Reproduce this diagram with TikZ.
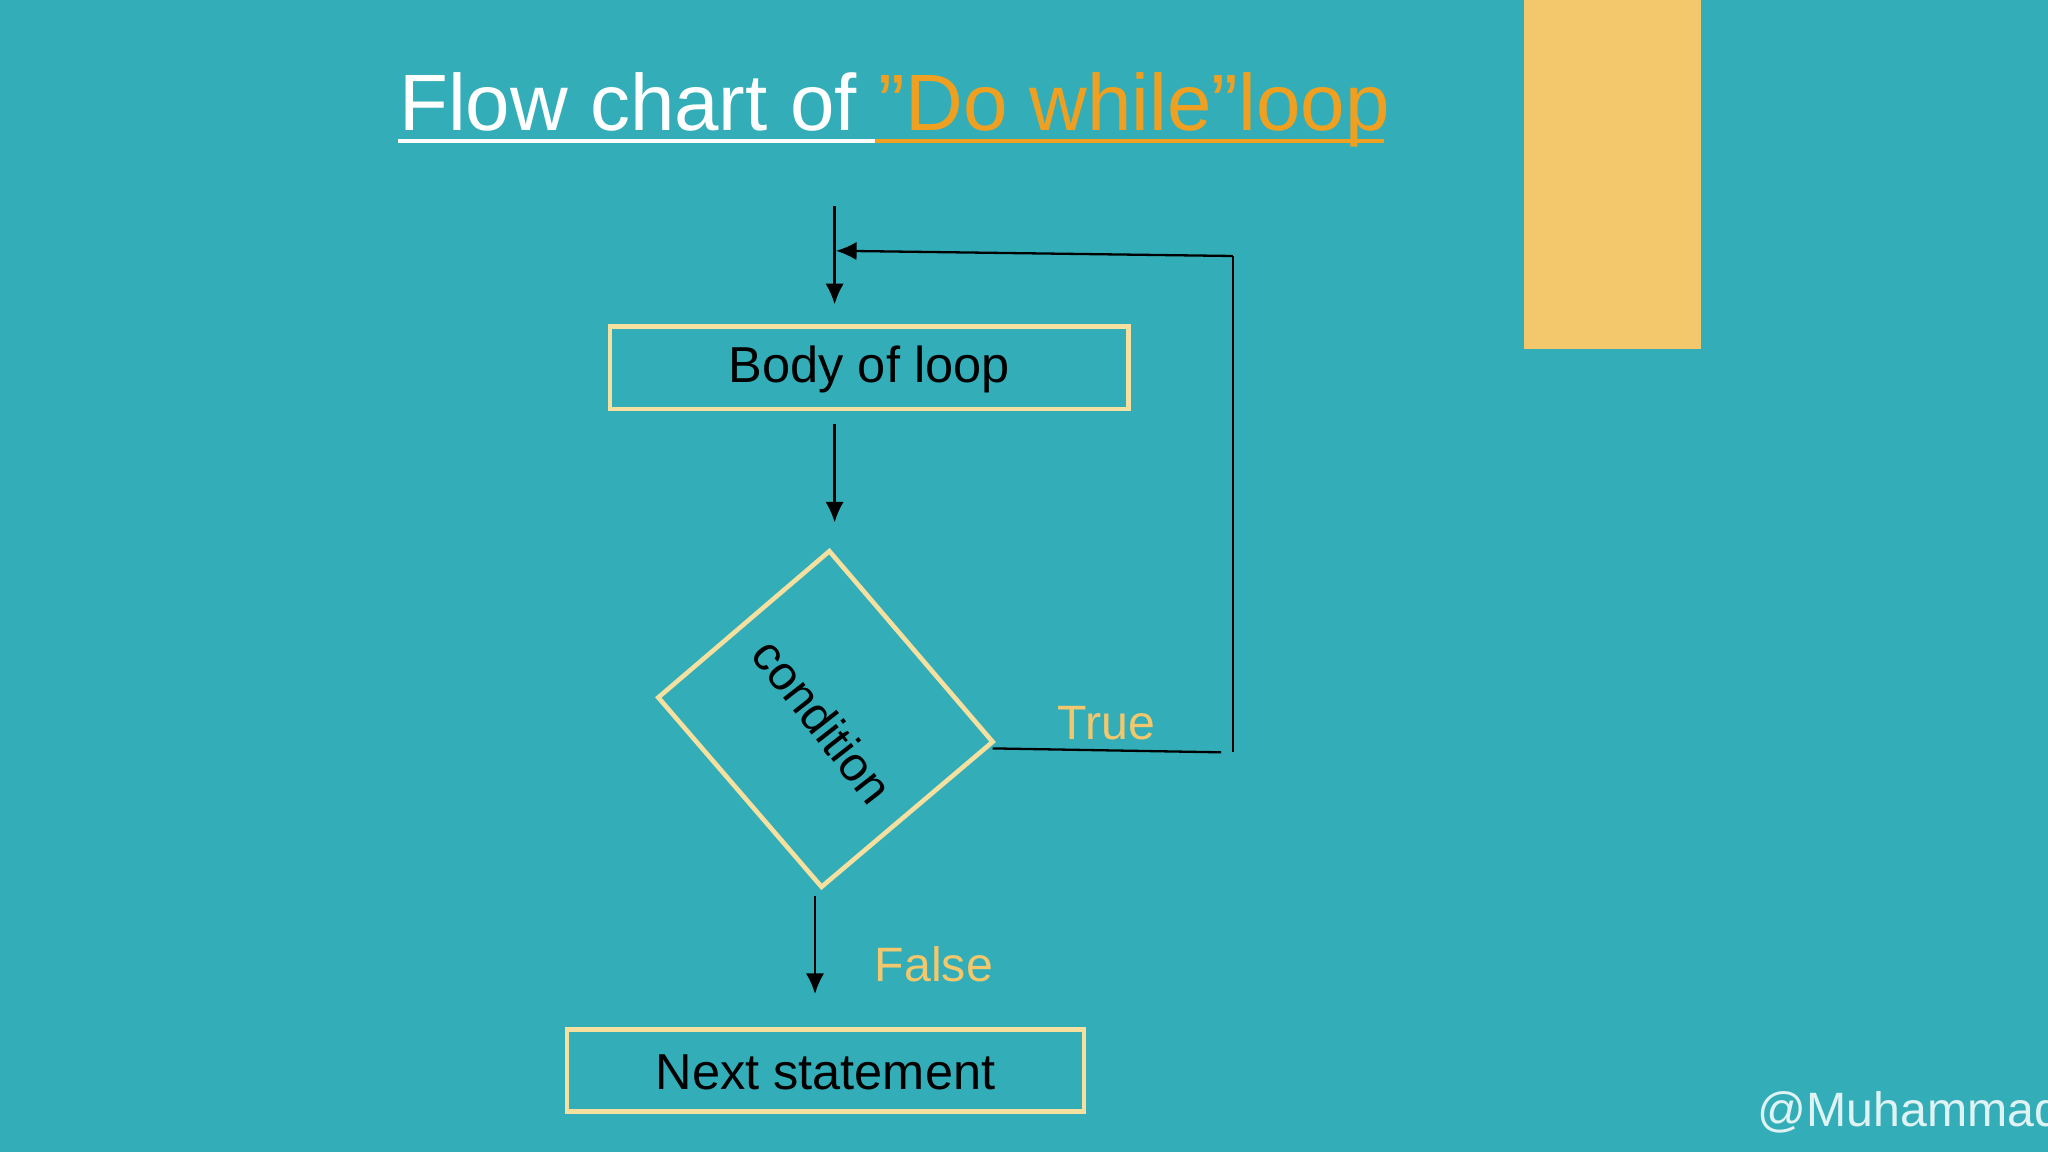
\documentclass[tikz,border=0pt]{standalone}
\usepackage{fontspec}
\setmainfont{Liberation Sans}
\usetikzlibrary{arrows.meta}
\definecolor{bg}{HTML}{33AEB8}
\definecolor{blk}{HTML}{F3C76C}
\definecolor{edge}{HTML}{F5E0A0}
\definecolor{orng}{HTML}{F0A020}
\definecolor{lbl}{HTML}{F3C76C}
\begin{document}
\begin{tikzpicture}[x=0.01cm,y=-0.01cm,
  box/.style={draw=edge,line width=1pt},
  arr/.style={-{Latex[length=4.5pt,width=4pt]},line width=0.5pt,black},
  ln/.style={line width=0.5pt,black}]
\fill[bg] (0,0) rectangle (1568,882);
\useasboundingbox (0,0) rectangle (1568,882);
\fill[blk] (1167,0) rectangle (1302,267);
\node[anchor=base west,inner sep=0,font=\fontsize{17.4}{20}\selectfont] (title) at (305,100)
  {\textcolor{white}{Flow chart of }\textcolor{orng}{”Do while”loop}};
\draw[white,line width=1pt] (305,108) -- (670,108);
\draw[orng,line width=1pt] (670,108) -- (1060,108);
\draw[box] (467,250) rectangle (864,313);
\node[font=\fontsize{11}{13}\selectfont] (body) at (665.5,283) {Body of loop};
\draw[box] (635,422) -- (760,568) -- (629,679) -- (504,534) -- cycle;
\node[rotate=-52,font=\fontsize{10.5}{12}\selectfont] (cond) at (630,552) {condition};
\draw[box] (434,788) rectangle (830,851);
\node[font=\fontsize{11}{13}\selectfont] (next) at (632,821) {Next statement};
\coordinate (a1) at (639,158); \coordinate (a2) at (639,233);
\coordinate (b1) at (639,325); \coordinate (b2) at (639,400);
\coordinate (c1) at (624,686); \coordinate (c2) at (624,761);
\draw[arr] (a1) -- (a2);
\draw[arr] (b1) -- (b2);
\draw[arr] (c1) -- (c2);
\coordinate (t0) at (760,573); \coordinate (t1) at (935,576);
\coordinate (t2) at (944,576); \coordinate (t3) at (944,196); \coordinate (t4) at (640,192);
\draw[ln] (t0) -- (t1);
\draw[ln] (t2) -- (t3);
\draw[arr] (t3) -- (t4);
\node[lbl,font=\fontsize{10.5}{12}\selectfont] (true) at (847,554) {True};
\node[lbl,font=\fontsize{10.5}{12}\selectfont] (false) at (715,738) {False};
\node[anchor=west,inner sep=0,text=white!85!bg,font=\fontsize{10.5}{12}\selectfont] (wm) at (1345,852) {@Muhammad};
\end{tikzpicture}
\end{document}
